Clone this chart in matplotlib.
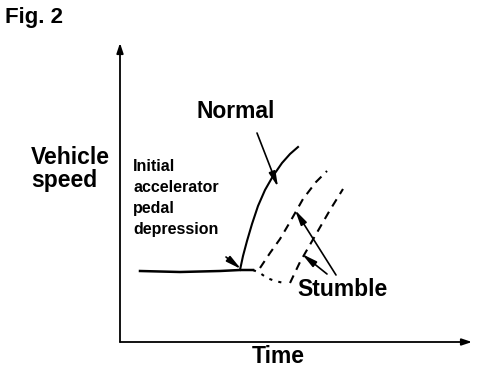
import matplotlib
matplotlib.use('Agg')
import matplotlib.pyplot as plt

# schematic data, in arbitrary time / speed units (origin at the axis corner)
base_t = [20, 60, 100, 120, 133]
base_v = [71, 70, 71, 72, 72]

normal_t = [120, 123, 127, 132, 138, 145, 153, 162, 170, 178]
normal_v = [72, 86, 101, 118, 136, 152, 166, 179, 188, 195]

drop_t = [133, 140, 147, 155, 164]
drop_v = [72, 69, 64, 61, 59]

stumble1_t = [140, 150, 160, 170, 183, 196, 207]
stumble1_v = [74, 89, 103, 120, 143, 160, 171]

stumble2_t = [170, 180, 195, 210, 223]
stumble2_v = [59, 80, 106, 132, 153]

plt.rcParams['font.family'] = ['Liberation Sans', 'DejaVu Sans']
plt.rcParams['font.weight'] = 'bold'

fig = plt.figure(figsize=(4.8, 3.72), dpi=100)
ax = fig.add_axes([120/480, 30/372, 350/480, 297/372])
ax.set_xlim(0, 350)
ax.set_ylim(0, 297)
ax.axis('off')

ax.plot(base_t, base_v, c='black', lw=1.8)
ax.plot(normal_t, normal_v, c='black', lw=1.5)
ax.plot(drop_t, drop_v, c='black', lw=1.5, ls=(0, (1.5, 3)))
ax.plot(stumble1_t, stumble1_v, c='black', lw=1.5, ls=(0, (4, 3)))
ax.plot(stumble2_t, stumble2_v, c='black', lw=1.5, ls=(0, (4, 3)))

# axes with arrow heads
axprops = dict(arrowstyle='-|>,head_length=0.6,head_width=0.2', color='black', lw=1.3,
               shrinkA=0, shrinkB=0)
ax.annotate('', xy=(0, 299), xytext=(0, 0), arrowprops=axprops, annotation_clip=False)
ax.annotate('', xy=(352, 0), xytext=(0, 0), arrowprops=axprops, annotation_clip=False)

# pointer arrows
pprops = dict(arrowstyle='-|>,head_length=0.9,head_width=0.2', color='black', lw=1.2,
              shrinkA=0, shrinkB=0)
ax.annotate('', xy=(158, 155), xytext=(137, 209), arrowprops=pprops)
ax.annotate('', xy=(121, 73), xytext=(106, 85), arrowprops=pprops)
ax.annotate('', xy=(175, 132), xytext=(216, 67), arrowprops=pprops)
ax.annotate('', xy=(182, 88), xytext=(207, 68), arrowprops=pprops)

ax.text(116, 231, 'Normal', fontsize=16.5, ha='center', va='center')
ax.text(-89, 196, 'Vehicle\nspeed', fontsize=16.5, ha='left', va='top', linespacing=1.0)
ax.text(13, 183, 'Initial\naccelerator\npedal\ndepression', fontsize=11.5, ha='left',
        va='top', linespacing=1.5)
ax.text(177, 52, 'Stumble', fontsize=16.5, ha='left', va='center')
ax.text(158, -3, 'Time', fontsize=16.5, ha='center', va='top')

fig.text(5/480, 1 - 17/372, 'Fig. 2', fontsize=16, ha='left', va='center')

fig.savefig('out.png', dpi=100, facecolor='white')
